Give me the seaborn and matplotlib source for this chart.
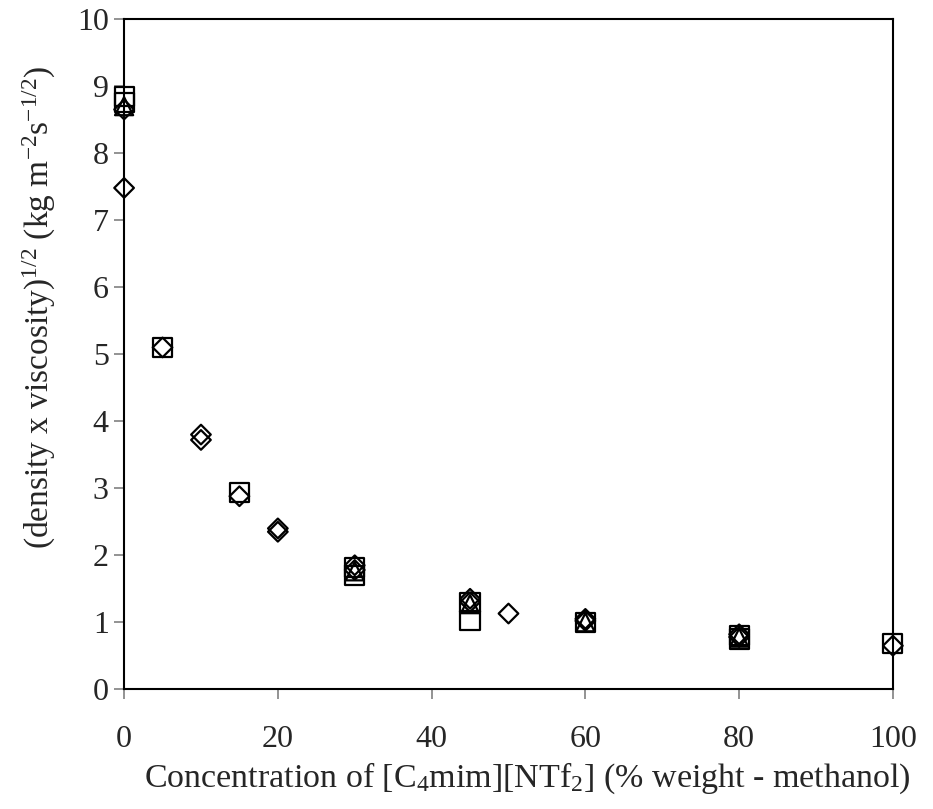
"""
plot.py

Raiz de (densidad x viscosidad) frente a la concentracion de [C4mim][NTf2] en metanol.
"""

import matplotlib
matplotlib.use("Agg")
import matplotlib.pyplot as plt
import seaborn as sns
import pandas as pd

# =========================
# Datos
# =========================

square_x = [0, 0, 5, 15, 30, 30, 45, 45, 60, 80, 80, 100]
square_y = [8.85, 8.75, 5.10, 2.93, 1.70, 1.82, 1.03, 1.30, 1.00, 0.75, 0.80, 0.68]

diamond_x = [0, 0, 5, 10, 10, 15, 20, 20, 30, 30, 45, 45, 50, 60, 60, 80, 80, 100]
diamond_y = [8.65, 7.48, 5.10, 3.80, 3.72, 2.88, 2.40, 2.35, 1.85, 1.78,
             1.30, 1.35, 1.13, 1.05, 1.02, 0.82, 0.78, 0.65]

triangle_x = [0, 30, 45, 60, 80]
triangle_y = [8.70, 1.76, 1.27, 1.00, 0.77]

x_ticks = [0, 20, 40, 60, 80, 100]
y_ticks = list(range(0, 11))


def main():
    sns.set_style("ticks")
    plt.rcParams["font.family"] = ["Liberation Serif", "DejaVu Serif"]
    plt.rcParams["mathtext.fontset"] = "custom"
    plt.rcParams["mathtext.rm"] = "Liberation Serif"
    plt.rcParams["mathtext.it"] = "Liberation Serif"
    plt.rcParams["mathtext.default"] = "regular"

    fig = plt.figure(figsize=(9.33, 8.09), dpi=100)
    ax = fig.add_axes([0.133, 0.148, 0.824, 0.8285])

    series = [
        (square_x, square_y, "s", 190),
        (triangle_x, triangle_y, "^", 170),
        (diamond_x, diamond_y, "D", 100),
    ]
    for xs, ys, marker, size in series:
        df = pd.DataFrame({"x": xs, "y": ys})
        sns.scatterplot(
            data=df, x="x", y="y", ax=ax,
            marker=marker, s=size,
            facecolor="none", edgecolor="black", linewidth=1.6,
            clip_on=False, zorder=3
        )

    ax.set_xlim(0, 100)
    ax.set_ylim(0, 10)
    ax.set_xticks(x_ticks)
    ax.set_yticks(y_ticks)

    for side in ["top", "right", "left", "bottom"]:
        ax.spines[side].set_visible(True)
        ax.spines[side].set_color("black")
        ax.spines[side].set_linewidth(1.5)

    ax.tick_params(direction="out", length=7, width=1.2, color="#808080",
                   labelsize=23)
    ax.tick_params(axis="x", pad=19)
    ax.tick_params(axis="y", pad=4)

    ax.set_xlabel("Concentration of [C$_4$mim][NTf$_2$] (% weight - methanol)",
                  fontsize=24.5)
    ax.set_ylabel("(density x viscosity)$^{1/2}$ (kg m$^{-2}$s$^{-1/2}$)",
                  fontsize=24)
    ax.xaxis.set_label_coords(0.525, -0.106)
    ax.yaxis.set_label_coords(-0.086, 0.57)

    fig.savefig("out.png", dpi=100)
    plt.close(fig)


if __name__ == "__main__":
    main()
